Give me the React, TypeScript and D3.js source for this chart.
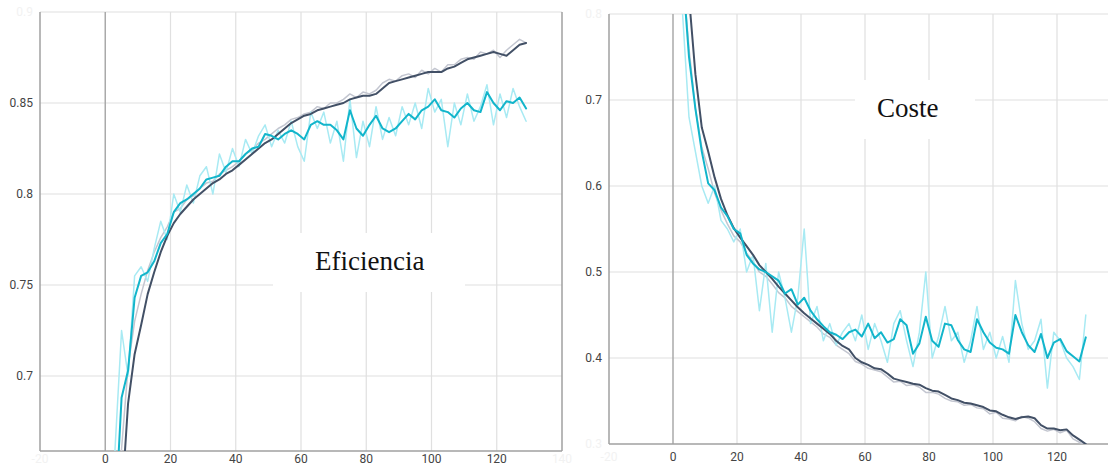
import React from "react";
import * as d3 from "d3";

// Sampled training steps (every other step)
const steps: number[] = d3.range(1, 130, 2);

// ---- Eficiencia (accuracy) ----
const effDark = [0.45, 0.55, 0.63, 0.685, 0.712, 0.728, 0.745, 0.757, 0.768, 0.777, 0.784, 0.789, 0.793, 0.797, 0.8, 0.803, 0.806, 0.808, 0.811, 0.813, 0.816, 0.819, 0.822, 0.825, 0.828, 0.83, 0.833, 0.836, 0.839, 0.841, 0.843, 0.844, 0.846, 0.847, 0.848, 0.849, 0.85, 0.852, 0.853, 0.854, 0.854, 0.855, 0.858, 0.861, 0.862, 0.863, 0.864, 0.865, 0.866, 0.867, 0.867, 0.867, 0.869, 0.87, 0.872, 0.874, 0.875, 0.876, 0.877, 0.878, 0.877, 0.876, 0.879, 0.882, 0.883];
const effGray = [0.47, 0.58, 0.66, 0.705, 0.73, 0.745, 0.758, 0.768, 0.776, 0.782, 0.79, 0.792, 0.797, 0.799, 0.803, 0.806, 0.807, 0.811, 0.813, 0.815, 0.818, 0.822, 0.824, 0.828, 0.83, 0.833, 0.836, 0.838, 0.841, 0.842, 0.844, 0.845, 0.848, 0.847, 0.85, 0.85, 0.852, 0.855, 0.853, 0.856, 0.855, 0.857, 0.861, 0.863, 0.862, 0.865, 0.866, 0.864, 0.868, 0.866, 0.869, 0.867, 0.871, 0.871, 0.874, 0.875, 0.874, 0.878, 0.877, 0.879, 0.875, 0.879, 0.882, 0.885, 0.883];
const effCyan = [0.5, 0.62, 0.688, 0.703, 0.743, 0.755, 0.757, 0.763, 0.773, 0.778, 0.79, 0.795, 0.797, 0.8, 0.803, 0.808, 0.809, 0.81, 0.815, 0.818, 0.818, 0.822, 0.825, 0.826, 0.833, 0.832, 0.83, 0.833, 0.835, 0.833, 0.83, 0.838, 0.84, 0.838, 0.838, 0.835, 0.83, 0.846, 0.836, 0.832, 0.838, 0.843, 0.836, 0.834, 0.836, 0.84, 0.844, 0.841, 0.846, 0.848, 0.852, 0.846, 0.845, 0.842, 0.847, 0.85, 0.846, 0.845, 0.856, 0.85, 0.846, 0.851, 0.85, 0.853, 0.847];
const effCyanRaw = [0.55, 0.66, 0.725, 0.7, 0.755, 0.76, 0.752, 0.77, 0.785, 0.775, 0.8, 0.79, 0.805, 0.795, 0.81, 0.815, 0.8, 0.822, 0.812, 0.825, 0.815, 0.83, 0.822, 0.832, 0.838, 0.826, 0.835, 0.828, 0.84, 0.826, 0.818, 0.845, 0.836, 0.845, 0.828, 0.84, 0.818, 0.852, 0.82, 0.84, 0.826, 0.848, 0.83, 0.842, 0.832, 0.848, 0.838, 0.85, 0.836, 0.858, 0.845, 0.852, 0.826, 0.85, 0.838, 0.855, 0.84, 0.848, 0.86, 0.838, 0.855, 0.842, 0.858, 0.848, 0.84];

// ---- Coste (loss) ----
const costDark = [1.0, 0.9, 0.82, 0.73, 0.668, 0.64, 0.61, 0.585, 0.566, 0.551, 0.54, 0.53, 0.52, 0.508, 0.5, 0.492, 0.483, 0.475, 0.467, 0.459, 0.452, 0.446, 0.44, 0.434, 0.428, 0.42, 0.414, 0.41, 0.4, 0.395, 0.392, 0.388, 0.387, 0.382, 0.376, 0.374, 0.372, 0.37, 0.369, 0.365, 0.362, 0.361, 0.357, 0.353, 0.351, 0.348, 0.347, 0.345, 0.343, 0.339, 0.338, 0.334, 0.331, 0.329, 0.331, 0.332, 0.33, 0.322, 0.318, 0.318, 0.316, 0.317, 0.31, 0.305, 0.3];
const costGray = [0.95, 0.85, 0.76, 0.69, 0.645, 0.62, 0.592, 0.572, 0.556, 0.542, 0.535, 0.522, 0.512, 0.5, 0.495, 0.486, 0.476, 0.47, 0.46, 0.454, 0.448, 0.442, 0.436, 0.428, 0.424, 0.415, 0.41, 0.405, 0.396, 0.393, 0.388, 0.386, 0.384, 0.378, 0.372, 0.373, 0.368, 0.369, 0.366, 0.36, 0.36, 0.358, 0.353, 0.35, 0.349, 0.345, 0.346, 0.342, 0.341, 0.335, 0.337, 0.33, 0.329, 0.327, 0.332, 0.33, 0.326, 0.318, 0.315, 0.317, 0.313, 0.316, 0.306, 0.302, 0.298];
const costCyan = [1.0, 0.85, 0.75, 0.69, 0.64, 0.603, 0.595, 0.575, 0.565, 0.55, 0.545, 0.52, 0.51, 0.503, 0.5, 0.495, 0.49, 0.475, 0.48, 0.462, 0.47, 0.455, 0.445, 0.437, 0.43, 0.427, 0.422, 0.43, 0.433, 0.425, 0.44, 0.423, 0.43, 0.418, 0.422, 0.445, 0.438, 0.405, 0.417, 0.448, 0.42, 0.413, 0.44, 0.438, 0.421, 0.41, 0.407, 0.445, 0.43, 0.418, 0.412, 0.41, 0.405, 0.45, 0.43, 0.415, 0.407, 0.428, 0.4, 0.418, 0.422, 0.408, 0.402, 0.396, 0.424];
const costCyanRaw = [0.95, 0.8, 0.68, 0.64, 0.6, 0.58, 0.6, 0.56, 0.55, 0.535, 0.55, 0.5, 0.52, 0.455, 0.51, 0.43, 0.5, 0.47, 0.43, 0.47, 0.55, 0.44, 0.46, 0.42, 0.44, 0.415, 0.43, 0.44, 0.42, 0.45, 0.41, 0.44, 0.42, 0.395, 0.44, 0.455, 0.42, 0.39, 0.43, 0.5, 0.4, 0.425, 0.46, 0.42, 0.43, 0.395, 0.42, 0.46, 0.41, 0.43, 0.4, 0.425, 0.395, 0.49, 0.44, 0.41, 0.42, 0.445, 0.365, 0.43, 0.42, 0.4, 0.39, 0.375, 0.45];

// ticks
const xTicks = [0, 20, 40, 60, 80, 100, 120];
const xEdgeTicks = [-20, 140];
const effYTicks = [0.7, 0.75, 0.8, 0.85];
const effYEdge = [0.9];
const costYTicks = [0.4, 0.5, 0.6, 0.7];
const costYEdge = [0.8, 0.3];

const WIDTH = 1108;
const HEIGHT = 466;
const DARK = "#425066";
const CYAN = "#12b5cb";
const DARK_RAW = "#c3c6d0";
const CYAN_RAW = "#a8eaf3";
const GRID = "#e0e0e0";
const AXIS = "#a0a0a0";
const LABEL = "#444";
const FAINT = "#f2f2f2";

type PanelProps = {
  id: string;
  left: number;
  right: number;
  top: number;
  bottom: number;
  yDomain: [number, number];
  yTicks: number[];
  yEdge: number[];
  series: { values: number[]; color: string; width: number }[];
  title: string;
  box: { x: number; y: number; w: number; h: number };
  titlePos: { x: number; y: number };
  rightBorder: boolean;
  labelDy: number;
};

function fmt(v: number) {
  return String(Math.round(v * 1000) / 1000);
}

function Panel(p: PanelProps) {
  const x = d3.scaleLinear().domain([-20, 140]).range([p.left, p.right]);
  const y = d3.scaleLinear().domain(p.yDomain).range([p.bottom, p.top]);
  const line = d3
    .line<number>()
    .x((_, i) => x(steps[i]))
    .y((d) => y(d));
  const gridY = [...p.yTicks, ...p.yEdge.filter((v) => v === p.yDomain[1])];
  const edgeX = xEdgeTicks.filter((t) => x(t) < WIDTH - 15);
  return (
    <g>
      <defs>
        <clipPath id={p.id}>
          <rect x={p.left} y={p.top} width={p.right - p.left} height={p.bottom - p.top} />
        </clipPath>
      </defs>
      {gridY.map((t) => (
        <line key={"gy" + t} x1={p.left} x2={p.right} y1={y(t)} y2={y(t)} stroke={GRID} strokeWidth={1.2} />
      ))}
      {xTicks.map((t) => (
        <line
          key={"gx" + t}
          x1={x(t)}
          x2={x(t)}
          y1={p.top}
          y2={p.bottom}
          stroke={t === 0 ? "#aaaaaa" : GRID}
          strokeWidth={t === 0 ? 1.5 : 1.2}
        />
      ))}
      <line x1={p.left} x2={p.left} y1={p.top} y2={p.bottom} stroke={AXIS} strokeWidth={1.5} />
      <line x1={p.left} x2={p.right} y1={p.bottom} y2={p.bottom} stroke={AXIS} strokeWidth={1.5} />
      {p.rightBorder && (
        <line x1={p.right} x2={p.right} y1={p.top} y2={p.bottom} stroke={AXIS} strokeWidth={1.5} />
      )}
      <rect x={p.box.x} y={p.box.y} width={p.box.w} height={p.box.h} fill="#fff" />
      <text
        x={p.titlePos.x}
        y={p.titlePos.y}
        fontFamily="'Liberation Serif', 'Times New Roman', serif"
        fontSize={27}
        fill="#111"
      >
        {p.title}
      </text>
      <g clipPath={`url(#${p.id})`}>
        {p.series.map((s, i) => (
          <path
            key={i}
            d={line(s.values) || ""}
            fill="none"
            stroke={s.color}
            strokeWidth={s.width}
            strokeLinejoin="round"
            strokeLinecap="round"
          />
        ))}
      </g>
      {p.yTicks.map((t) => (
        <text
          key={"yl" + t}
          x={p.left - 7}
          y={y(t)}
          dy="0.35em"
          textAnchor="end"
          fontFamily="Roboto, 'Noto Sans', sans-serif"
          fontSize={12}
          fill={LABEL}
        >
          {fmt(t)}
        </text>
      ))}
      {p.yEdge.map((t) => (
        <text
          key={"ye" + t}
          x={p.left - 7}
          y={y(t)}
          dy="0.35em"
          textAnchor="end"
          fontFamily="Roboto, 'Noto Sans', sans-serif"
          fontSize={12}
          fill={FAINT}
        >
          {fmt(t)}
        </text>
      ))}
      {xTicks.map((t) => (
        <text
          key={"xl" + t}
          x={x(t)}
          y={p.bottom + p.labelDy}
          textAnchor="middle"
          fontFamily="Roboto, 'Noto Sans', sans-serif"
          fontSize={12}
          fill={LABEL}
        >
          {t}
        </text>
      ))}
      {edgeX.map((t) => (
        <text
          key={"xe" + t}
          x={x(t)}
          y={p.bottom + p.labelDy}
          textAnchor="middle"
          fontFamily="Roboto, 'Noto Sans', sans-serif"
          fontSize={12}
          fill={FAINT}
        >
          {t}
        </text>
      ))}
    </g>
  );
}

export default function App() {
  return (
    <svg
      width={WIDTH}
      height={HEIGHT}
      style={{ position: "absolute", left: 0, top: 0, background: "#fff" }}
    >
      <rect x={0} y={0} width={WIDTH} height={HEIGHT} fill="#fff" />
      <Panel
        id="clipEff"
        left={40}
        right={562}
        top={12}
        bottom={451}
        yDomain={[0.9 - 439 / 1820, 0.9]}
        yTicks={effYTicks}
        yEdge={effYEdge}
        series={[
          { values: effGray, color: DARK_RAW, width: 1.5 },
          { values: effCyanRaw, color: CYAN_RAW, width: 1.5 },
          { values: effDark, color: DARK, width: 2 },
          { values: effCyan, color: CYAN, width: 2 },
        ]}
        title="Eficiencia"
        box={{ x: 273, y: 233, w: 192, h: 59 }}
        titlePos={{ x: 315, y: 270 }}
        rightBorder={true}
        labelDy={12}
      />
      <Panel
        id="clipCost"
        left={609}
        right={609 + 160 * 3.2}
        top={14}
        bottom={444}
        yDomain={[0.3, 0.8]}
        yTicks={costYTicks}
        yEdge={costYEdge}
        series={[
          { values: costGray, color: DARK_RAW, width: 1.5 },
          { values: costCyanRaw, color: CYAN_RAW, width: 1.5 },
          { values: costDark, color: DARK, width: 2 },
          { values: costCyan, color: CYAN, width: 2 },
        ]}
        title="Coste"
        box={{ x: 855, y: 80, w: 120, h: 59 }}
        titlePos={{ x: 877, y: 117 }}
        rightBorder={false}
        labelDy={17}
      />
    </svg>
  );
}
